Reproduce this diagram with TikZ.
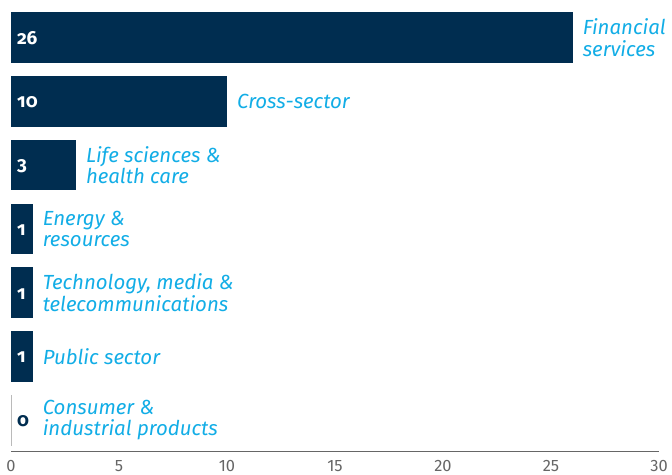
\documentclass[tikz,border=0pt]{standalone}
\usepackage{fontspec}
\setmainfont{Fira Sans}
\newfontfamily\valuefont[Numbers=OldStyle]{Fira Sans}
\newfontfamily\axisfont{Fira Sans}
\usetikzlibrary{positioning}

\definecolor{barnavy}{HTML}{002D50}
\definecolor{labelcyan}{HTML}{12ADE6}
\definecolor{axisgrey}{HTML}{666666}

\tikzset{
  bar/.style={fill=barnavy, inner sep=0pt, minimum height=50.5bp, anchor=west},
  sector/.style={text=labelcyan, font=\itshape\fontsize{20.5}{21.5}\selectfont, align=left, inner sep=0pt},
  value/.style={font=\valuefont\bfseries\fontsize{19}{20}\selectfont, inner sep=0pt, anchor=west},
  tick label/.style={text=axisgrey, font=\axisfont\fontsize{16.5}{18}\selectfont, inner sep=0pt, anchor=north}
}

\begin{document}
\begin{tikzpicture}[x=1bp, y=-1bp]
    \useasboundingbox (0,0) rectangle (672,475);

    % bars, counts and sector names
    \foreach \v/\txt [count=\i] in {26/{Financial\\services}, 10/Cross-sector,
        3/{Life sciences \&\\health care}, 1/{Energy \&\\resources},
        1/{Technology, media \&\\telecommunications}, 1/Public sector,
        0/{Consumer \&\\industrial products}} {
        \pgfmathsetmacro\w{21.6*\v}
        \pgfmathsetmacro\lw{21.6*max(\v,1)}
        \ifnum\v=0 \def\valcol{barnavy}\else\def\valcol{white}\fi
        \node[bar, minimum width=\w bp] (bar\i) at (11, {37.5+(\i-1)*63.8}) {};
        \coordinate (end\i) at (11+\lw, {37.5+(\i-1)*63.8});
        \node[value, text=\valcol] (value\i) at ([xshift=6bp, yshift=-1bp]bar\i.west) {\v};
        \node[sector, right=10bp of end\i] (sector\i) {\txt};
    }
    \draw[axisgrey!45, line width=0.8bp] (bar7.north west) -- (bar7.south west);

    % axis
    \coordinate (axis0) at (11, 451.5);
    \coordinate (axis30) at (659, 451.5);
    \draw[axisgrey, line width=1.2bp] (axis0) -- (axis30);
    \foreach \t in {0, 5, ..., 30} {
        \node[tick label] (tick\t) at (11+21.6*\t, 460.5) {\t};
    }
\end{tikzpicture}
\end{document}
